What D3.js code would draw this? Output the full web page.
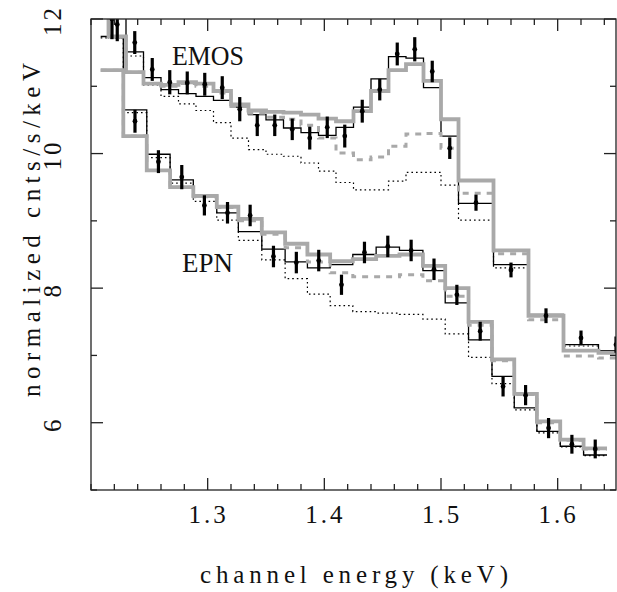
<!DOCTYPE html>
<html><head><meta charset="utf-8">
<script src="https://cdn.jsdelivr.net/npm/d3@7"></script>
<style>body{margin:0;background:#fff} svg{display:block}</style>
</head><body>
<svg id="c" width="617" height="592"></svg>
<script>
// ---------- data ----------
// EMOS spectrum: bin edges (keV) and bin values (normalized cnts/s/keV)
const emosEdges = [1.200,1.215,1.230,1.245,1.260,1.275,1.290,1.305,1.320,1.335,1.350,1.365,1.380,1.395,1.410,1.425,1.440,1.455,1.470,1.485,1.500,1.515,1.545,1.575,1.605,1.635,1.665];
const emosModelA = [12.3,12.15,11.51,11.13,10.95,10.89,10.85,10.79,10.69,10.58,10.50,10.38,10.31,10.27,10.39,10.69,11.11,11.44,11.42,10.98,10.26,9.26,8.35,7.61,7.16,7.07];
const emosModelB = [12.3,11.74,11.21,11.04,11.02,11.06,11.04,10.93,10.73,10.64,10.62,10.61,10.58,10.52,10.48,10.63,10.93,11.24,11.33,11.08,10.51,9.60,8.56,7.59,7.07,7.04];
const emosContB  = [12.3,11.74,11.21,11.04,11.00,11.04,11.00,10.90,10.70,10.60,10.54,10.51,10.42,10.23,10.01,9.91,9.95,10.11,10.29,10.30,10.08,9.41,8.51,7.53,6.99,6.96];
const emosContA  = [12.3,11.72,11.45,11.02,10.85,10.74,10.64,10.46,10.23,10.06,9.99,9.96,9.86,9.74,9.57,9.46,9.46,9.59,9.72,9.72,9.53,9.01,8.30,7.58,7.14,7.05];
const emosX   = [1.2225,1.2375,1.2525,1.2675,1.2825,1.2975,1.3125,1.3275,1.3425,1.3575,1.3725,1.3875,1.4025,1.4175,1.4325,1.4475,1.4625,1.4775,1.4925,1.5075,1.530,1.560,1.590,1.620,1.650];
const emosY   = [11.92,11.65,11.25,11.06,11.05,11.03,10.98,10.66,10.42,10.42,10.36,10.23,10.39,10.26,10.63,10.95,11.48,11.55,11.22,10.08,9.27,8.27,7.59,7.26,7.16];
const emosErr = [0.25,0.17,0.17,0.18,0.17,0.17,0.17,0.18,0.16,0.16,0.16,0.17,0.16,0.17,0.17,0.16,0.17,0.18,0.16,0.16,0.12,0.11,0.11,0.11,0.12];

// EPN spectrum
const epnEdges = [1.2083,1.2277,1.2478,1.2678,1.2877,1.3078,1.3263,1.3464,1.3664,1.3855,1.4050,1.4244,1.4444,1.4644,1.4845,1.5036,1.5236,1.5437,1.5628,1.5822,1.6022,1.6222,1.6423];
const epnModelA = [11.74,10.65,9.99,9.61,9.36,9.12,8.84,8.58,8.39,8.30,8.35,8.50,8.61,8.56,8.26,7.78,7.23,6.69,6.22,5.87,5.65,5.52];
const epnModelB = [11.24,10.26,9.75,9.50,9.37,9.21,9.03,8.83,8.66,8.50,8.40,8.43,8.48,8.50,8.33,8.00,7.50,6.94,6.43,6.02,5.75,5.62];
const epnContB  = [11.24,10.26,9.75,9.50,9.36,9.20,9.00,8.80,8.60,8.39,8.23,8.17,8.17,8.20,8.11,7.88,7.45,6.92,6.42,6.00,5.74,5.61];
const epnContA  = [11.72,10.61,9.94,9.56,9.29,9.01,8.71,8.42,8.14,7.91,7.74,7.65,7.63,7.61,7.54,7.32,6.97,6.58,6.19,5.85,5.64,5.51];
const epnX   = [1.2180,1.2377,1.2578,1.2778,1.2972,1.3170,1.3364,1.3564,1.3760,1.3952,1.4147,1.4344,1.4544,1.4744,1.4940,1.5136,1.5336,1.5532,1.5725,1.5922,1.6122,1.6322];
const epnY   = [12.0,10.48,9.88,9.65,9.23,9.12,9.08,8.47,8.38,8.41,8.05,8.53,8.62,8.56,8.28,7.90,7.36,6.54,6.41,5.92,5.68,5.61];
const epnErr = [0.3,0.17,0.17,0.18,0.15,0.16,0.16,0.16,0.16,0.16,0.15,0.16,0.16,0.16,0.16,0.15,0.14,0.15,0.15,0.15,0.14,0.14];

const xTickLabels = [1.3,1.4,1.5,1.6];
const yTickLabels = [6,8,10,12];
const xDomain = [1.2,1.65];
const yDomain = [5,12];

// ---------- drawing ----------
const svg = d3.select('#c');
const L = 91, R = 616, T = 19, B = 490;
const x = d3.scaleLinear().domain(xDomain).range([L,R]);
const y = d3.scaleLinear().domain(yDomain).range([B,T]);
const FONT = '"Liberation Serif", "DejaVu Serif", serif';

svg.append('clipPath').attr('id','clip').append('rect')
  .attr('x',L).attr('y',T).attr('width',R-L).attr('height',B-T);
const g = svg.append('g').attr('clip-path','url(#clip)');

const step = d3.line().x(d=>x(d[0])).y(d=>y(d[1])).curve(d3.curveStepAfter);
function hist(edges, vals){
  return edges.map((e,i)=>[e, vals[Math.min(i, vals.length-1)]]);
}
function drawHist(edges, vals, stroke, width, dash){
  g.append('path').datum(hist(edges, vals))
    .attr('d', step).attr('fill','none')
    .attr('stroke', stroke).attr('stroke-width', width)
    .attr('stroke-dasharray', dash || null)
    .attr('stroke-linejoin','miter').attr('stroke-linecap','butt');
}
// black model and continuum
drawHist(emosEdges, emosModelA, '#000', 1.3);
drawHist(epnEdges, epnModelA, '#000', 1.3);
drawHist(emosEdges, emosContA, '#000', 1.2, '1.6,3');
drawHist(epnEdges, epnContA, '#000', 1.2, '1.6,3');
// grey model and continuum
drawHist(emosEdges, emosContB, '#a9a9a9', 3, '6,6');
drawHist(epnEdges, epnContB, '#a9a9a9', 3, '6,6');
drawHist(emosEdges, emosModelB, '#a9a9a9', 3.8);
drawHist(epnEdges, epnModelB, '#a9a9a9', 3.8);

// data points
function drawData(xs, ys, es){
  const d = xs.map((v,i)=>({x:v, y:ys[i], e:es[i]}));
  g.append('g').selectAll('line').data(d).join('line')
    .attr('x1',p=>x(p.x)).attr('x2',p=>x(p.x))
    .attr('y1',p=>y(p.y-p.e)).attr('y2',p=>y(p.y+p.e))
    .attr('stroke','#000').attr('stroke-width',3.2);
  g.append('g').selectAll('circle').data(d).join('circle')
    .attr('cx',p=>x(p.x)).attr('cy',p=>y(p.y)).attr('r',2.4).attr('fill','#000');
}
drawData(emosX, emosY, emosErr);
drawData(epnX, epnY, epnErr);

// frame and ticks
const ax = svg.append('g').attr('stroke','#222').attr('stroke-width',1.3);
ax.append('rect').attr('x',L).attr('y',T).attr('width',R-L).attr('height',B-T).attr('fill','none');
const xMinor = d3.range(0, 23).map(i=>1.2 + i*0.02).filter(v=>v<=1.65+1e-9);
xMinor.forEach(v=>{
  const major = xTickLabels.some(t=>Math.abs(t-v)<1e-6);
  const len = major?12:6;
  ax.append('line').attr('x1',x(v)).attr('x2',x(v)).attr('y1',B).attr('y2',B-len);
  ax.append('line').attr('x1',x(v)).attr('x2',x(v)).attr('y1',T).attr('y2',T+len);
});
d3.range(5,13).forEach(v=>{
  const major = yTickLabels.includes(v);
  const len = major?12:6;
  ax.append('line').attr('x1',L).attr('x2',L+len).attr('y1',y(v)).attr('y2',y(v));
  ax.append('line').attr('x1',R).attr('x2',R-len).attr('y1',y(v)).attr('y2',y(v));
});

// tick labels
svg.append('g').selectAll('text').data(xTickLabels).join('text')
  .attr('x',d=>x(d)+1).attr('y',523)
  .attr('text-anchor','middle').attr('font-family',FONT).attr('font-size',25)
  .attr('letter-spacing','3px').attr('fill','#111')
  .text(d=>d.toFixed(1));
svg.append('g').selectAll('text').data(yTickLabels).join('text')
  .attr('transform',d=>`translate(61,${y(d)+1.5}) rotate(-90)`)
  .attr('text-anchor','middle').attr('font-family',FONT).attr('font-size',25)
  .attr('letter-spacing','3px').attr('fill','#111')
  .text(d=>d);

// axis titles
svg.append('text').attr('x',200).attr('y',583)
  .attr('font-family',FONT).attr('font-size',25).attr('fill','#111')
  .attr('textLength',308).attr('lengthAdjust','spacing')
  .text('channel energy (keV)');
svg.append('text').attr('transform','translate(40,397) rotate(-90)')
  .attr('font-family',FONT).attr('font-size',25).attr('fill','#111')
  .attr('textLength',334).attr('lengthAdjust','spacing')
  .text('normalized cnts/s/keV');

// series labels
svg.append('text').attr('x',172).attr('y',65)
  .attr('font-family',FONT).attr('font-size',28).attr('fill','#111')
  .attr('textLength',72).attr('lengthAdjust','spacingAndGlyphs')
  .text('EMOS');
svg.append('text').attr('x',182).attr('y',272)
  .attr('font-family',FONT).attr('font-size',28).attr('fill','#111')
  .attr('textLength',51).attr('lengthAdjust','spacingAndGlyphs')
  .text('EPN');
</script>
</body></html>
